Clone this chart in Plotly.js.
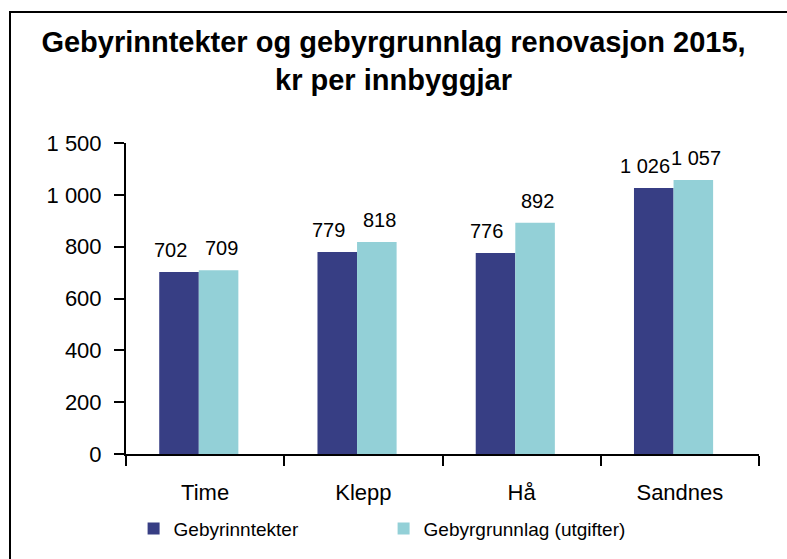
<!DOCTYPE html>
<html>
<head>
<meta charset="utf-8">
<script src="https://cdn.plot.ly/plotly-3.0.1.min.js"></script>
<style>
  html, body { margin: 0; padding: 0; background: #fff; }
  #frame { position: absolute; left: 9px; top: 11px; width: 790px; height: 560px;
           border-left: 2px solid #000; border-top: 2px solid #000; box-sizing: border-box; }
  #chart { position: absolute; left: 0; top: 0; width: 787px; height: 559px; }
</style>
</head>
<body>
<div id="frame"></div>
<div id="chart"></div>
<script>
const categories = ["Time", "Klepp", "Hå", "Sandnes"];
const seriesNames = ["Gebyrinntekter", "Gebyrgrunnlag (utgifter)"];
const inntekter = [702, 779, 776, 1026];
const grunnlag = [709, 818, 892, 1057];
const yTickVals = [0, 200, 400, 600, 800, 1000, 1200];
const yTickText = ["0", "200", "400", "600", "800", "1 000", "1 500"];

const fmt = v => String(v).replace(/\B(?=(\d{3})+(?!\d))/g, " ");
const FONT = "Liberation Sans, Arial, sans-serif";

const traces = [
  { type: "bar", name: seriesNames[0], x: categories, y: inntekter,
    marker: { color: "#373E84" }, width: 0.25, offset: -0.29, hoverinfo: "none" },
  { type: "bar", name: seriesNames[1], x: categories, y: grunnlag,
    marker: { color: "#93D0D7" }, width: 0.25, offset: -0.04, hoverinfo: "none" }
];

// value labels above the bars, placed through the axes from the data arrays
const labelFont = { family: FONT, size: 20, color: "#000" };
const annotations = [];
[[inntekter, -35], [grunnlag, 16]].forEach(([vals, dx]) => {
  vals.forEach((v, i) => {
    annotations.push({
      x: categories[i], y: v, xref: "x", yref: "y",
      text: fmt(v), showarrow: false, xanchor: "center", yanchor: "bottom",
      xshift: dx, yshift: 9, font: labelFont
    });
  });
});

const layout = {
  width: 787, height: 559,
  paper_bgcolor: "rgba(0,0,0,0)", plot_bgcolor: "rgba(0,0,0,0)",
  margin: { l: 126, r: 28, t: 143, b: 104 },
  font: { family: FONT, color: "#000" },
  title: {
    text: "<b>Gebyrinntekter og gebyrgrunnlag renovasjon 2015,<br>kr per innbyggjar</b>",
    font: { family: FONT, size: 29, color: "#000" },
    x: 0.5, xanchor: "center", y: 0.907, yanchor: "middle"
  },
  barmode: "group",
  annotations: annotations,
  xaxis: {
    type: "category", showline: true, linecolor: "#000", linewidth: 2,
    ticks: "outside", tickson: "boundaries", ticklen: 10, tickwidth: 2, tickcolor: "#000",
    tickfont: { family: FONT, size: 22, color: "#000" }, ticklabelstandoff: 18,
    showgrid: false, zeroline: false, fixedrange: true
  },
  yaxis: {
    range: [0, 1200], tickvals: yTickVals, ticktext: yTickText,
    showline: true, linecolor: "#000", linewidth: 2,
    ticks: "outside", ticklen: 10, tickwidth: 2, tickcolor: "#000",
    tickfont: { family: FONT, size: 22, color: "#000" }, ticklabelstandoff: 8,
    showgrid: false, zeroline: false, fixedrange: true
  },
  showlegend: true,
  legend: {
    orientation: "h", x: 0.012, xanchor: "left", y: -0.175, yanchor: "top",
    font: { family: FONT, size: 19, color: "#000" },
    itemwidth: 30, traceorder: "normal", entrywidth: 205
  }
};

Plotly.newPlot("chart", traces, layout, { displayModeBar: false, staticPlot: true });
</script>
</body>
</html>
